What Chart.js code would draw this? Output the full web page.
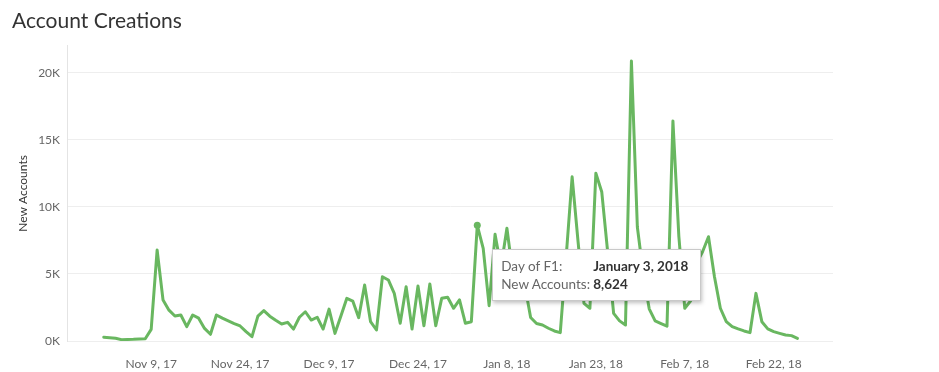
<!DOCTYPE html>
<html>
<head>
<meta charset="utf-8">
<script src="https://cdn.jsdelivr.net/npm/chart.js@4"></script>
<style>
  html, body { margin: 0; padding: 0; background: #fff; }
  #wrap { position: relative; width: 939px; height: 372px; }
  #tip {
    position: absolute; background: #fff; border: 1px solid #c9c9c9;
    box-shadow: 1px 2px 4px rgba(0,0,0,0.25);
    font-family: Lato, sans-serif; font-size: 13.5px; line-height: 18px;
    padding: 7px 12px 7px 8px; white-space: nowrap;
  }
  #tip .k { color: #666; display: inline-block; width: 92px; }
  #tip .v { color: #333; font-weight: bold; }
</style>
</head>
<body>
<div id="wrap">
  <canvas id="chart" width="939" height="372"></canvas>
  <div id="tip"></div>
</div>
<script>
// daily new accounts, starting 1 Nov 2017
const startDate = new Date(2017, 10, 1);
const newAccounts = [
  280, 240, 200, 100, 120, 130, 150, 170, 870, 6780,
  3050, 2300, 1860, 1940, 1070, 1940, 1700, 940, 500, 1940,
  1700, 1500, 1300, 1120, 700, 320, 1860, 2260, 1850, 1550,
  1270, 1390, 890, 1770, 2180, 1560, 1770, 890, 2380, 570,
  1860, 3180, 2980, 1740, 4170, 1440, 820, 4790, 4550, 3550,
  1320, 4050, 890, 4100, 1140, 4250, 1140, 3180, 3260, 2440,
  3060, 1320, 1440, 8624, 6900, 2630, 7950, 5500, 8400, 5000,
  4600, 4200, 1750, 1300, 1190, 950, 750, 620, 6300, 12240,
  7400, 2800, 2440, 12500, 11100, 6600, 2060, 1500, 1190, 20860,
  8500, 5000, 2400, 1500, 1300, 1100, 16400, 7800, 2440, 3000,
  5800, 6650, 7770, 4800, 2440, 1440, 1070, 900, 750, 620,
  3550, 1440, 900, 700, 570, 450, 400, 200
];
const tickDays = [8, 23, 38, 53, 68, 83, 98, 113];
const tickLabels = ['Nov 9, 17', 'Nov 24, 17', 'Dec 9, 17', 'Dec 24, 17',
                    'Jan 8, 18', 'Jan 23, 18', 'Feb 7, 18', 'Feb 22, 18'];
const yTicks = [0, 5000, 10000, 15000, 20000];
const hoverDay = 63;

const dates = newAccounts.map((_, i) => {
  const d = new Date(startDate);
  d.setDate(d.getDate() + i);
  return d;
});

const green = '#69b760';
const font = 'Lato, "Open Sans", sans-serif';

const chart = new Chart(document.getElementById('chart'), {
  type: 'line',
  data: {
    datasets: [{
      data: newAccounts.map((v, i) => ({ x: i, y: v })),
      borderColor: green,
      backgroundColor: green,
      borderWidth: 3,
      borderJoinStyle: 'round',
      borderCapStyle: 'round',
      tension: 0,
      pointRadius: (c) => c.dataIndex === hoverDay ? 3.5 : 0,
      pointBorderWidth: 0,
      pointBackgroundColor: green
    }]
  },
  options: {
    responsive: false,
    animation: false,
    layout: { padding: { left: 12, right: 106, top: 2.6, bottom: 0 } },
    plugins: {
      legend: { display: false },
      tooltip: { enabled: false },
      title: {
        display: true,
        text: 'Account Creations',
        align: 'start',
        color: '#333',
        font: { family: font, size: 21, weight: 'normal' },
        padding: { top: 6, bottom: 12 }
      }
    },
    scales: {
      x: {
        type: 'linear',
        min: -6.2,
        max: 123,
        afterFit: (s) => { s.height = 31; },
        afterBuildTicks: (s) => { s.ticks = tickDays.map(v => ({ value: v })); },
        grid: { display: false },
        border: { display: false },
        ticks: {
          autoSkip: false,
          maxRotation: 0,
          padding: 8,
          color: '#666',
          font: { family: font, size: 12 },
          callback: (v) => tickLabels[tickDays.indexOf(v)]
        }
      },
      y: {
        min: 0,
        max: 22000,
        afterFit: (s) => { s.width = 55; },
        afterBuildTicks: (s) => { s.ticks = yTicks.map(v => ({ value: v })); },
        grid: { color: '#eeeeee', drawTicks: false },
        border: { color: '#e4e4e4' },
        title: {
          display: true,
          text: 'New Accounts',
          color: '#333',
          font: { family: font, size: 12 }
        },
        ticks: {
          padding: 7,
          color: '#666',
          font: { family: font, size: 12 },
          callback: (v) => (v / 1000) + 'K'
        }
      }
    }
  }
});

// tooltip box next to the highlighted day
const tip = document.getElementById('tip');
const d = dates[hoverDay];
const longDate = d.toLocaleDateString('en-US', { month: 'long', day: 'numeric', year: 'numeric' });
tip.innerHTML =
  '<div><span class="k">Day of F1:</span><span class="v">' + longDate + '</span></div>' +
  '<div><span class="k">New Accounts:</span><span class="v">' + newAccounts[hoverDay].toLocaleString('en-US') + '</span></div>';
const px = chart.scales.x.getPixelForValue(hoverDay);
const py = chart.scales.y.getPixelForValue(newAccounts[hoverDay]);
tip.style.left = (px + 15) + 'px';
tip.style.top = (py + 24) + 'px';
</script>
</body>
</html>
